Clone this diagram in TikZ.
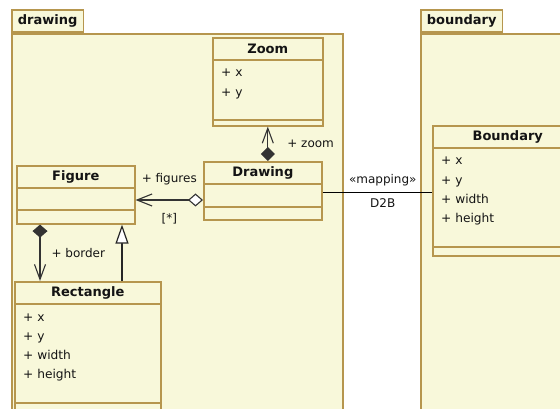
\documentclass[tikz,border=0pt]{standalone}
\usepackage{fontspec}
\setmainfont{DejaVu Sans}
\usepackage{xcolor}
\usepackage{tikz}
\usetikzlibrary{
    positioning,
    calc,
    arrows.meta
}
\definecolor{umlfill}{RGB}{248,248,218}
\definecolor{umlline}{RGB}{182,150,78}
\definecolor{umltext}{RGB}{20,20,20}
\tikzset{
  pkgbody/.style = {
      draw=umlline,
      fill=umlfill,
      line width=1.6pt,
      inner sep=0pt,
      anchor=north west
  },
  pkgtab/.style = {
      pkgbody,
      anchor=south west,
      minimum height=22pt,
      inner xsep=6pt,
      text=umltext,
      font=\fontsize{13}{15}\selectfont\bfseries
  },
  classbox/.style = {
      draw=umlline,
      fill=umlfill,
      line width=1.6pt,
      inner sep=0pt,
      anchor=north west
  },
  compart/.style = {
      draw=umlline,
      line width=1.6pt
  },
  classname/.style = {
      text=umltext,
      font=\fontsize{13}{15}\selectfont\bfseries
  },
  attr/.style = {
      anchor=base west,
      inner sep=0pt,
      text=umltext,
      font=\fontsize{12.2}{14}\selectfont
  },
  role/.style = {
      inner sep=1pt,
      text=umltext,
      font=\fontsize{12}{14}\selectfont
  },
  assoc/.style = {
      draw=black!80,
      line width=1.1pt
  },
  link/.style = {
      draw=black,
      line width=0.9pt
  }
}
% class box: name, position, width, height, title, attribute part height, attributes
\newcommand{\umlclass}[7]{%
  \node[classbox, minimum width=#3, minimum height=#4] (#1) at #2 {};
  \draw[compart] ($(#1.north west)+(0,23)$) -- ($(#1.north east)+(0,23)$);
  \draw[compart] ($(#1.north west)+(0,23+#6)$) -- ($(#1.north east)+(0,23+#6)$);
  \node[classname] at ($(#1.north)+(0,11.5)$) {#5};
  \if\relax\detokenize{#7}\relax\else
    \foreach \attrname [count=\i] in {#7}
      \node[attr] at ($(#1.north west)+(9,40+19.3*\i-19.3)$) {+ \attrname};
  \fi
}

\begin{document}
\begin{tikzpicture}[x=1pt, y=-1pt]
        \useasboundingbox (0,0) rectangle (560,409);
        \clip (0,0) rectangle (560,409);
        % Packages
        \node[pkgbody, minimum width=331, minimum height=400] (drawingpkg) at (11,33) {};
        \node[pkgtab] (drawingtab) at (drawingpkg.north west) {drawing};
        \node[pkgbody, minimum width=160, minimum height=400] (boundarypkg) at (420,33) {};
        \node[pkgtab] (boundarytab) at (boundarypkg.north west) {boundary};
        % Classes
        \umlclass{zoom}{(212,37)}{110}{88}{Zoom}{60}{x,y}
        \umlclass{drawing}{(203,161)}{118}{58}{Drawing}{23}{}
        \umlclass{figure}{(16,165)}{118}{58}{Figure}{22}{}
        \umlclass{rectangle}{(14,281)}{146}{140}{Rectangle}{99}{x,y,width,height}
        \umlclass{boundary}{(432,125)}{150}{130}{Boundary}{99}{x,y,width,height}
        % Edges
        \coordinate (aggy) at (0,200);
        \coordinate (compx) at (40,0);
        \coordinate (genx) at (122,0);
        \coordinate (mapy) at (0,192);
        \draw[assoc, {Diamond[length=14pt, width=14pt]}-{Straight Barb[length=15pt, width=11pt]}]
        (zoom.south |- drawing.north) -- (zoom.south)
        node[role, midway, right=18pt] {+ zoom};
        \draw[assoc, {Diamond[open, fill=white, length=15pt, width=13pt]}-{Straight Barb[length=15pt, width=12pt]}]
        (drawing.west |- aggy) -- (figure.east |- aggy)
        node[role, midway, above=13pt] {+ figures}
        node[role, midway, below=12pt] {[*]};
        \draw[assoc, {Diamond[length=13pt, width=15pt]}-{Straight Barb[length=15pt, width=11pt]}]
        (figure.south -| compx) -- (rectangle.north -| compx)
        node[role, midway, right=10pt] {+ border};
        \draw[draw=black!85, line width=2pt, -{Triangle[open, fill=white, length=19pt, width=13pt, line width=1.2pt]}]
        (rectangle.north -| genx) -- (figure.south -| genx);
        \draw[link] (drawing.east |- mapy) -- (boundary.west |- mapy)
        node[role, pos=0.55, above=5pt] {«mapping»}
        node[role, pos=0.55, below=5pt] {D2B};
    \end{tikzpicture}
\end{document}
